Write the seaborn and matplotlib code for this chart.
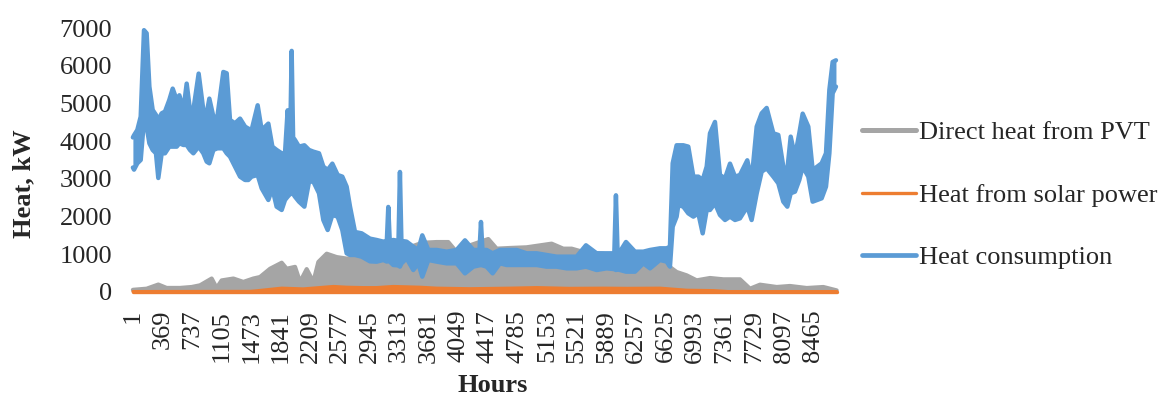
import matplotlib
matplotlib.use("Agg")
import matplotlib.pyplot as plt
from matplotlib.lines import Line2D
import numpy as np
import pandas as pd
import seaborn as sns

# ---------------- data ----------------
tick_hours = [1, 369, 737, 1105, 1473, 1841, 2209, 2577, 2945, 3313, 3681, 4049,
              4417, 4785, 5153, 5521, 5889, 6257, 6625, 6993, 7361, 7729, 8097, 8465]
y_ticks = [0, 1000, 2000, 3000, 4000, 5000, 6000, 7000]

# Heat consumption: upper / lower envelope of the hourly curve (kW)
blue_hours = [1, 15, 56, 98, 139, 172, 206, 247, 288, 317, 359, 400, 454, 496, 546, 579,
              629, 670, 711, 753, 819, 877, 919, 952, 1002, 1052, 1126, 1168, 1209, 1271,
              1334, 1396, 1437, 1478, 1553, 1603, 1686, 1736, 1789, 1852, 1893, 1926, 1958,
              1976, 1994, 2017, 2067, 2134, 2192, 2246, 2316, 2370, 2424, 2482, 2548, 2606,
              2660, 2702, 2764, 2847, 2950, 3033, 3116, 3160, 3178, 3196, 3240, 3305, 3323,
              3341, 3406, 3489, 3551, 3601, 3676, 3779, 3904, 4028, 4132, 4236, 4313, 4331,
              4349, 4401, 4476, 4567, 4650, 4775, 4899, 5024, 5148, 5272, 5397, 5521, 5637,
              5770, 5894, 5990, 6010, 6030, 6060, 6135, 6247, 6351, 6434, 6558, 6641, 6682,
              6716, 6765, 6786, 6848, 6910, 6973, 7035, 7089, 7139, 7180, 7242, 7304, 7367,
              7429, 7491, 7553, 7644, 7698, 7761, 7823, 7885, 7968, 8030, 8092, 8142, 8184,
              8237, 8291, 8333, 8403, 8457, 8515, 8569, 8623, 8665, 8706, 8747]
blue_high = [4100, 4157, 4298, 4652, 6950, 6868, 5450, 4830, 4697, 4564, 4741, 4786, 5096, 5397,
             5096, 5220, 4830, 5530, 4830, 4830, 5796, 4830, 4741, 5131, 4652, 4652, 5840, 5805,
             4564, 4475, 4600, 4387, 4334, 4298, 4954, 4298, 4467, 3855, 3767, 3678, 3678, 4821,
             4100, 6400, 4100, 4032, 3855, 3891, 3767, 3722, 3678, 3324, 3235, 3403, 3102, 3058,
             2792, 2260, 1587, 1551, 1410, 1374, 1330, 1350, 2252, 1350, 1374, 1350, 3182, 1350,
             1330, 1197, 1109, 1498, 1109, 1109, 1064, 1109, 1365, 1109, 1109, 1853, 1109, 1109,
             1020, 1109, 1109, 1109, 1020, 1020, 976, 931, 931, 931, 1233, 1020, 1020, 1020,
             2562, 1064, 1064, 1321, 1064, 1064, 1109, 1153, 1153, 1197, 3412, 3891, 3891, 3891,
             3855, 3058, 3058, 2969, 3324, 4209, 4511, 3102, 3013, 3403, 3058, 3102, 3492, 2969,
             4387, 4741, 4883, 4209, 4165, 3324, 3235, 4121, 3589, 4209, 4732, 4387, 3235, 3324,
             3412, 3678, 5362, 6106, 6150]
blue_low = [3300, 3244, 3412, 3501, 4564, 4387, 3944, 3767, 3678, 3022, 3678, 3678, 3855, 3855,
            3855, 3944, 3900, 3900, 3767, 3678, 3855, 3678, 3456, 3412, 3767, 3811, 3811, 3678,
            3589, 3324, 3058, 2969, 2969, 3058, 3102, 2748, 2438, 2748, 2260, 2172, 2438, 2526,
            2600, 2600, 2600, 2526, 2393, 2260, 2925, 2925, 2615, 1906, 1640, 2039, 1995, 1640,
            1020, 976, 976, 931, 807, 798, 843, 800, 843, 800, 710, 700, 666, 750, 887, 577, 754,
            400, 843, 800, 754, 754, 488, 666, 700, 710, 700, 666, 488, 754, 710, 710, 710, 710,
            666, 666, 621, 621, 666, 577, 621, 600, 577, 600, 577, 533, 533, 754, 621, 843, 800,
            666, 1729, 1995, 2304, 2260, 2083, 1995, 2083, 1551, 2172, 2172, 2349, 2039, 1906,
            1995, 1906, 1950, 2260, 1906, 2615, 3191, 3279, 3058, 2880, 2393, 2260, 2615, 2659,
            2969, 3324, 3058, 2393, 2438, 2482, 2792, 3678, 5273, 5450]

# Direct heat from PVT: upper envelope of the daily peaks (kW)
gray_hours = [1, 172, 317, 421, 587, 732, 836, 981, 1043, 1105, 1251, 1375, 1499, 1582, 1707,
              1852, 1914, 2018, 2080, 2163, 2246, 2308, 2412, 2536, 2661, 2826, 2992, 3150, 3400,
              3600, 3779, 3924, 4028, 4194, 4422, 4526, 4692, 4899, 5210, 5355, 5459, 5604, 5853,
              6000, 6300, 6558, 6765, 6890, 7014, 7180, 7346, 7553, 7678, 7802, 8010, 8175, 8383,
              8590, 8756]
gray_peak = [50, 80, 190, 100, 100, 125, 170, 350, 100, 300, 350, 260, 350, 390, 610, 770, 610,
             660, 260, 600, 260, 790, 1010, 920, 880, 920, 880, 1000, 1150, 1300, 1320, 1320,
             1056, 1233, 1400, 1144, 1162, 1180, 1277, 1144, 1144, 1056, 1011, 900, 950, 850,
             524, 435, 302, 364, 329, 329, 80, 187, 125, 152, 98, 125, 35]

# Heat from solar power: upper envelope of the daily peaks (kW)
orange_hours = [1, 1458, 1541, 1852, 2121, 2495, 2661, 2868, 3033, 3240, 3572, 3779, 4194,
                4692, 5024, 5424, 5853, 6143, 6558, 6890, 7222, 7400, 8760]
orange_peak = [5, 10, 25, 95, 75, 140, 120, 110, 110, 140, 120, 95, 80, 95, 110, 90, 95, 90,
               95, 40, 30, 5, 5]

series_names = ["Direct heat from PVT", "Heat from solar power", "Heat consumption"]
colors = ["#A5A5A5", "#ED7D31", "#5B9BD5"]

# ---------------- figure ----------------
sns.set_theme(style="white")
plt.rcParams["font.family"] = ["Liberation Serif", "DejaVu Serif"]
plt.rcParams["lines.solid_capstyle"] = "round"
plt.rcParams["lines.solid_joinstyle"] = "round"

W, H = 1169, 397
fig = plt.figure(figsize=(W / 100, H / 100), dpi=100)
x0, x1 = 132.9, 837.0
y0, y1 = 291.7, 28.3
ax = fig.add_axes([x0 / W, 1 - y0 / H, (x1 - x0) / W, (y0 - y1) / H])

FS = 19

gray_df = pd.DataFrame({"hour": gray_hours, "kW": gray_peak})
orange_df = pd.DataFrame({"hour": orange_hours, "kW": orange_peak})
blue_df = pd.DataFrame({"hour": blue_hours, "high": blue_high, "low": blue_low})

# PVT
ax.fill_between(gray_df["hour"], 0, gray_df["kW"], color=colors[0], lw=0, zorder=1)
sns.lineplot(data=gray_df, x="hour", y="kW", ax=ax, color=colors[0], lw=3.0,
             zorder=2, clip_on=False)
# Solar power
ax.fill_between(orange_df["hour"], 0, orange_df["kW"], color=colors[1], lw=0, zorder=3)
sns.lineplot(data=orange_df, x="hour", y="kW", ax=ax, color=colors[1], lw=2.2,
             zorder=4, clip_on=False)
ax.plot([orange_hours[0], orange_hours[-1]], [0, 0], color=colors[1], lw=2.4,
        zorder=4, clip_on=False)
# Consumption
ax.fill_between(blue_df["hour"], blue_df["low"], blue_df["high"], color=colors[2],
                lw=0, zorder=5)
sns.lineplot(data=blue_df, x="hour", y="high", ax=ax, color=colors[2], lw=3.2,
             zorder=6, clip_on=False)
sns.lineplot(data=blue_df, x="hour", y="low", ax=ax, color=colors[2], lw=3.2,
             zorder=6, clip_on=False)

ax.set_xlim(1, 8760)
ax.set_ylim(0, 7000)
ax.set_xticks(tick_hours)
ax.set_xticklabels([str(t) for t in tick_hours], rotation=90, fontsize=FS)
ax.set_yticks(y_ticks)
ax.set_yticklabels([str(v) for v in y_ticks], fontsize=FS)
ax.tick_params(axis="x", length=0, pad=13)
ax.tick_params(axis="y", length=0, pad=15)
for s in ax.spines.values():
    s.set_visible(False)
ax.grid(False)

ax.set_xlabel("Hours", fontsize=FS, fontweight="bold", va="center", ha="center")
ax.xaxis.set_label_coords((492.6 - x0) / (x1 - x0), (y0 - 385) / (y0 - y1))
ax.set_ylabel("Heat, kW", fontsize=FS, fontweight="bold", va="center", ha="center")
ax.yaxis.set_label_coords((24 - x0) / (x1 - x0), 0.41)

handles = [Line2D([0], [0], color=colors[0], lw=3.6),
           Line2D([0], [0], color=colors[1], lw=2.4),
           Line2D([0], [0], color=colors[2], lw=3.4)]
fig.legend(handles, series_names, loc="center left",
           bbox_to_anchor=(862 / W, 1 - 195 / H), frameon=False, fontsize=FS,
           handlelength=2.05, handletextpad=0.12, labelspacing=1.47,
           borderpad=0, borderaxespad=0)

fig.savefig("out.png", dpi=100)
